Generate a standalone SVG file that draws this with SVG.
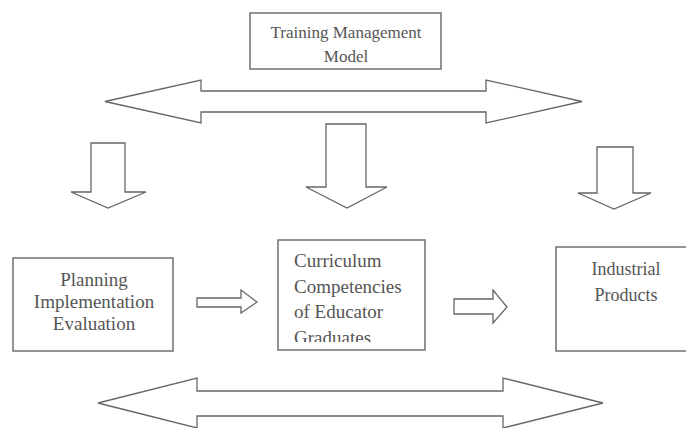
<svg xmlns="http://www.w3.org/2000/svg" width="686" height="428" viewBox="0 0 686 428">
<style>
.box{fill:none;stroke:#666;stroke-width:1.4}
.arr{fill:#fff;stroke:#666;stroke-width:1.3;stroke-linejoin:miter}
.t{font-family:"Liberation Serif","Times New Roman",serif;fill:#555}
</style>
<defs>
<clipPath id="midclip"><rect x="279" y="241" width="145" height="101"/></clipPath>
</defs>
<rect width="686" height="428" fill="#fff"/>
<g id="connectors">
<path class="arr" d="M105,101.5 L201,80 L201,91 L486,91 L486,80 L582,101.5 L486,123 L486,112 L201,112 L201,123 Z"/>
<path class="arr" d="M91,143 L125,143 L125,192 L146,192 L108,208 L71,192 L91,192 Z"/>
<path class="arr" d="M326,124 L366,124 L366,187 L387,187 L347,208 L306,187 L326,187 Z"/>
<path class="arr" d="M597,147 L633,147 L633,193 L651,193 L614,209 L578,193 L597,193 Z"/>
<path class="arr" d="M197,298 L241,298 L241,290 L257,302 L241,313 L241,307 L197,307 Z"/>
<path class="arr" d="M454,299 L493,299 L493,290 L507,307 L493,323 L493,314 L454,314 Z"/>
<path class="arr" d="M98,403 L197,378 L197,391 L503,391 L503,378 L603,403 L503,428 L503,416 L197,416 L197,428 Z"/>
</g>
<g id="training-model">
<rect class="box" x="250" y="13" width="191" height="56"/>
<text class="t" x="346" y="38" font-size="17" text-anchor="middle">Training Management</text>
<text class="t" x="346" y="62" font-size="17" text-anchor="middle">Model</text>
</g>
<g id="planning">
<rect class="box" x="13" y="258" width="160" height="93"/>
<text class="t" x="94" y="286" font-size="19" text-anchor="middle">Planning</text>
<text class="t" x="94" y="308" font-size="19" text-anchor="middle">Implementation</text>
<text class="t" x="94" y="330" font-size="19" text-anchor="middle">Evaluation</text>
</g>
<g id="curriculum">
<rect class="box" x="278" y="240" width="147" height="110"/>
<g clip-path="url(#midclip)">
<text class="t" x="294" y="267" font-size="19">Curriculum</text>
<text class="t" x="294" y="293" font-size="19">Competencies</text>
<text class="t" x="294" y="318" font-size="19">of Educator</text>
<text class="t" x="294" y="344" font-size="19">Graduates</text>
</g>
</g>
<g id="industrial">
<rect class="box" x="556" y="247" width="140" height="104"/>
<text class="t" x="626" y="275" font-size="18" text-anchor="middle">Industrial</text>
<text class="t" x="626" y="301" font-size="18" text-anchor="middle">Products</text>
</g>
</svg>
